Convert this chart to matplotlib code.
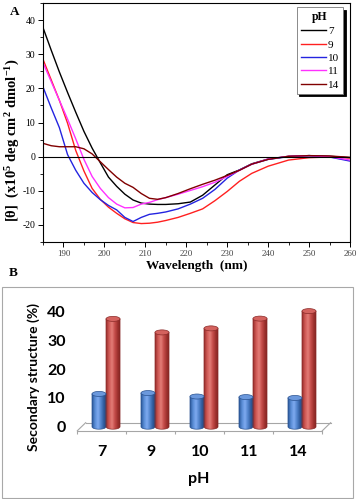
import numpy as np
import matplotlib
matplotlib.use("Agg")
import matplotlib.pyplot as plt
from matplotlib.patches import Ellipse, PathPatch, Rectangle
from matplotlib.path import Path
from matplotlib.colors import LinearSegmentedColormap
from matplotlib.ticker import MultipleLocator

plt.rcParams['axes.unicode_minus'] = False
plt.rcParams['mathtext.fontset'] = 'custom'
plt.rcParams['mathtext.rm'] = 'Liberation Serif:bold'
plt.rcParams['mathtext.it'] = 'Liberation Serif:italic:bold'
plt.rcParams['mathtext.default'] = 'rm'

# ---- panel A : CD spectra at different pH
wavelength = [185, 187, 189, 191, 193, 195, 197, 199, 201, 203, 205, 207, 209, 211,
              213, 215, 218, 221, 224, 227, 230, 233, 236, 240, 245, 250, 255, 260]
ph7 = [37.8, 31.2, 24.8, 18.8, 13.0, 7.4, 2.5, -1.8, -6.0, -8.7, -11.0, -12.7, -13.6, -13.9,
       -14.0, -14.0, -13.8, -13.3, -11.3, -8.3, -5.3, -3.9, -2.1, -0.7, 0.1, 0.3, 0.1, -0.3]
ph9 = [28.5, 22.5, 16.5, 9.8, 1.8, -4.2, -9.3, -12.5, -14.8, -16.6, -18.2, -19.3, -19.6, -19.5,
       -19.2, -18.7, -17.8, -16.6, -15.3, -12.9, -10.2, -7.2, -4.9, -2.8, -1.0, -0.3, -0.1, -0.4]
ph10 = [20.4, 14.3, 8.5, 0.6, -4.0, -7.8, -10.5, -12.6, -14.3, -15.6, -17.8, -19.0, -17.8, -16.9,
        -16.6, -16.2, -15.3, -13.9, -12.2, -9.6, -6.3, -3.9, -2.2, -0.8, 0.0, 0.3, -0.1, -1.3]
ph11 = [27.5, 22.0, 16.5, 11.0, 5.2, -0.8, -5.8, -9.3, -12.0, -13.9, -15.0, -14.9, -13.9, -13.4,
        -12.6, -12.0, -11.0, -9.9, -8.8, -7.5, -5.8, -4.0, -2.2, -0.7, 0.1, 0.3, 0.0, -1.0]
ph14 = [3.9, 3.2, 2.9, 2.9, 2.9, 2.3, 0.8, -1.5, -3.8, -6.0, -7.8, -9.0, -10.8, -12.2,
        -12.5, -12.0, -10.8, -9.4, -8.1, -6.9, -5.5, -4.0, -2.2, -0.8, 0.1, 0.3, 0.2, -0.2]
ph_labels = ['7', '9', '10', '11', '14']
line_colors = ['black', '#ff2020', '#2424e0', '#ff30ff', '#800000']

# ---- panel B : secondary structure (%)
ph_cats = ['7', '9', '10', '11', '14']
blue_vals = [11.4, 11.7, 10.5, 10.3, 10.0]
red_vals = [37.5, 32.8, 34.2, 37.6, 40.2]

serif = 'Liberation Serif'
sans = 'Lato'

fig = plt.figure(figsize=(3.58, 4.99), dpi=100)

# ------------------------------------------------------------ A
ax = fig.add_axes([43/358, 1-242/499, 307/358, 239/499])
for y, lab, c in zip([ph7, ph9, ph10, ph11, ph14], ph_labels, line_colors):
    ax.plot(wavelength, y, color=c, lw=1.0, label=lab)
ax.axhline(0, color='black', lw=0.8)
ax.set_xlim(185, 260)
ax.set_ylim(-25, 45)
ax.xaxis.set_major_locator(MultipleLocator(10))
ax.xaxis.set_minor_locator(MultipleLocator(5))
ax.yaxis.set_minor_locator(MultipleLocator(5))
ax.set_yticks(np.arange(-20, 41, 10))
ax.tick_params(which='major', direction='out', length=3.5, width=0.7)
ax.tick_params(which='minor', direction='out', length=2, width=0.6)
ax.tick_params(axis='x', labelsize=6.5, labelcolor='#444444', pad=2)
ax.tick_params(axis='y', labelsize=7, pad=2)
for t in ax.get_xticklabels() + ax.get_yticklabels():
    t.set_family(serif)
for s in ax.spines.values():
    s.set_linewidth(0.8)
ax.set_xlabel('Wavelength  (nm)', family=serif, weight='bold', fontsize=9.5, labelpad=2)
ax.set_ylabel(r'[θ]  (x10$^{5}$ deg cm$^{2}$ dmol$^{-1}$)', family=serif, weight='bold',
              fontsize=10.5)
ax.yaxis.set_label_coords(-0.07, 0.425)
leg = ax.legend(title='pH', loc='upper right', bbox_to_anchor=(0.977, 0.983),
                borderaxespad=0, frameon=True, fancybox=False,
                shadow={'color': 'black', 'alpha': 1},
                prop={'family': serif, 'size': 8},
                title_fontproperties={'family': serif, 'weight': 'bold', 'size': 8.5},
                borderpad=0.35, handlelength=2.3, handletextpad=0.15, labelspacing=0.32)
leg.get_frame().set_edgecolor('#777777')
leg.get_frame().set_linewidth(0.6)
fig.text(10/358, 1-12/499, 'A', family=serif, weight='bold', fontsize=9.5, va='center')

# ------------------------------------------------------------ B
fig.add_artist(Rectangle((2/358, 1-498/499), 351/358, 211/499, transform=fig.transFigure,
                         fill=False, edgecolor='#a8a8a8', lw=0.8))
fig.text(9/358, 1-273/499, 'B', family=serif, weight='bold', fontsize=9.5, va='center')

bx = fig.add_axes([70/358, 1-433/499, 275/358, 133/499])
xpos = np.arange(len(ph_cats))
bw = 0.286
depth_x, depth_y = 0.085, 1.4
cap_h = 1.75

# floor of the 3D plot
fl = dict(color='#a6a6a6', lw=0.8, zorder=1, clip_on=False)
bx.plot([-0.5 - depth_x, 4.5 - depth_x], [-depth_y, -depth_y], **fl)
bx.plot([-0.5 + depth_x, 4.5 + depth_x], [depth_y, depth_y], **fl)
bx.plot([-0.5 - depth_x, -0.5 + depth_x], [-depth_y, depth_y], **fl)
bx.plot([4.5 - depth_x, 4.5 + depth_x], [-depth_y, depth_y], **fl)
bx.vlines(np.arange(6) - 0.5 - depth_x, -depth_y - 1.05, -depth_y, **fl)

blue_cmap = LinearSegmentedColormap.from_list(
    'b', ['#2b5899', '#5a8dd6', '#7eaaf0', '#5284cc', '#2f5b9c', '#204579'])
red_cmap = LinearSegmentedColormap.from_list(
    'r', ['#982d2b', '#cf5955', '#e37c77', '#c44b48', '#9c302d', '#7a2220'])
grad = np.linspace(0, 1, 64).reshape(1, -1)


def cylinders(rects, cmap, top_color, edge):
    for r in rects:
        x0, w, h = r.get_x(), r.get_width(), r.get_height()
        xc = x0 + w / 2
        t = np.linspace(np.pi, 2 * np.pi, 40)
        base = np.column_stack([xc + w / 2 * np.cos(t), cap_h / 2 * np.sin(t)])
        verts = np.vstack([[x0, h], base, [x0 + w, h], [x0, h]])
        body = PathPatch(Path(verts, closed=True), facecolor='none', edgecolor=edge,
                         lw=0.5, zorder=3)
        bx.add_patch(body)
        im = bx.imshow(grad, cmap=cmap, extent=[x0, x0 + w, -cap_h / 2, h], aspect='auto',
                       origin='lower', interpolation='bilinear', zorder=2)
        im.set_clip_path(body)
        bx.add_patch(Ellipse((xc, h), w, cap_h, facecolor=top_color, edgecolor=edge,
                             lw=0.5, zorder=4))


b1 = bx.bar(xpos - bw / 2, blue_vals, bw, color='none', zorder=0)
b2 = bx.bar(xpos + bw / 2, red_vals, bw, color='none', zorder=0)
cylinders(b1, blue_cmap, '#6b98dc', '#2a5290')
cylinders(b2, red_cmap, '#d4625e', '#8a2a28')

bx.set_xlim(-0.735, 4.878)
bx.set_ylim(-2.19, 44.07)
for s in bx.spines.values():
    s.set_visible(False)
bx.set_yticks(np.arange(0, 41, 10))
bx.set_xticks(xpos - depth_x, ph_cats)
bx.tick_params(axis='y', length=0, pad=3, labelsize=11.5)
bx.tick_params(axis='x', length=0, pad=9, labelsize=11.5)
for t in bx.get_xticklabels() + bx.get_yticklabels():
    t.set_family(sans)
    t.set_weight('bold')
bx.set_ylabel('Secondary structure (%)', family=sans, weight='bold', fontsize=10)
bx.yaxis.set_label_coords(-0.11, 0.421)
bx.set_xlabel('pH', family=sans, weight='bold', fontsize=11.5)
bx.xaxis.set_label_coords(0.469, -0.29)

fig.savefig('out.png', dpi=100)
